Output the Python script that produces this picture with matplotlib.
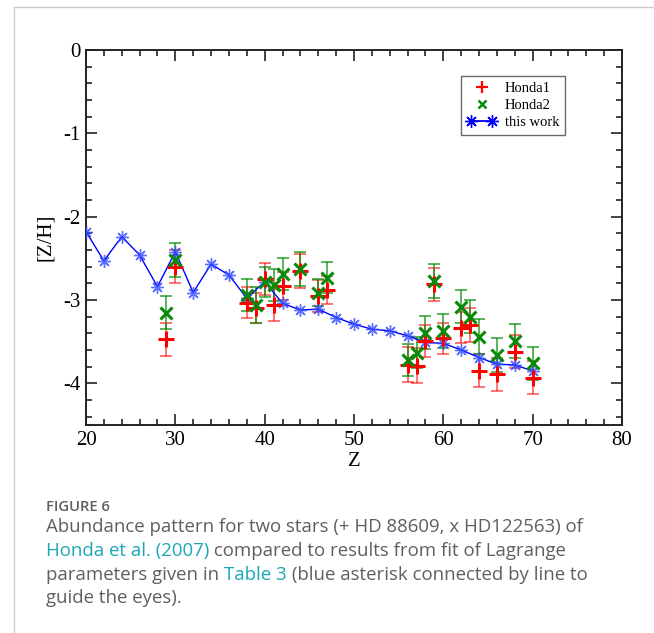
import matplotlib
matplotlib.use("Agg")
import matplotlib.pyplot as plt
from matplotlib.lines import Line2D
from matplotlib.legend_handler import HandlerLine2D
from matplotlib.ticker import MultipleLocator, FixedLocator, FixedFormatter

# ---- data ----
z_work = [20, 22, 24, 26, 28, 30, 32, 34, 36, 38, 40, 42, 44, 46, 48, 50, 52,
          54, 56, 58, 60, 62, 64, 66, 68, 70]
zh_work = [-2.18, -2.53, -2.24, -2.46, -2.84, -2.42, -2.91, -2.57, -2.70, -2.98,
           -2.78, -3.04, -3.12, -3.11, -3.21, -3.29, -3.35, -3.37, -3.43, -3.51,
           -3.52, -3.60, -3.69, -3.77, -3.78, -3.85]

z_honda = [29, 30, 38, 39, 40, 41, 42, 44, 46, 47, 56, 57, 58, 59, 60, 62, 63,
           64, 66, 68, 70]
zh_honda1 = [-3.47, -2.60, -3.03, -3.09, -2.75, -3.06, -2.83, -2.65, -2.95, -2.88,
             -3.78, -3.79, -3.49, -2.81, -3.46, -3.33, -3.30, -3.85, -3.89, -3.62,
             -3.93]
err_honda1 = [0.20, 0.20, 0.19, 0.18, 0.19, 0.19, 0.17, 0.20, 0.19, 0.17,
              0.21, 0.21, 0.19, 0.20, 0.19, 0.19, 0.20, 0.20, 0.20, 0.20, 0.20]
zh_honda2 = [-3.15, -2.52, -2.94, -3.06, -2.78, -2.82, -2.69, -2.63, -2.91, -2.73,
             -3.72, -3.63, -3.39, -2.77, -3.37, -3.08, -3.20, -3.44, -3.66, -3.49,
             -3.76]
err_honda2 = [0.20, 0.20, 0.19, 0.22, 0.18, 0.19, 0.19, 0.20, 0.16, 0.19,
              0.19, 0.19, 0.20, 0.20, 0.20, 0.20, 0.20, 0.21, 0.20, 0.20, 0.20]

x_ticks = [20, 30, 40, 50, 60, 70, 80]
x_ticklabels = ["20", "30", "40", "50", "60", "70", "80"]
y_ticks = [0, -1, -2, -3, -4]
y_ticklabels = ["0", "-1", "-2", "-3", "-4"]

SERIF = ["Liberation Serif", "DejaVu Serif"]

fig = plt.figure(figsize=(6.54, 6.33), dpi=100)
fig.patch.set_facecolor("white")

# card border (top and left)
fig.add_artist(Line2D([14 / 654, 1.0], [1 - 7 / 633, 1 - 7 / 633],
                      transform=fig.transFigure, color="#cccccc", lw=1.0))
fig.add_artist(Line2D([14 / 654, 14 / 654], [0, 1 - 7 / 633],
                      transform=fig.transFigure, color="#cccccc", lw=1.0))

ax = fig.add_axes([86 / 654, 1 - 425 / 633, (622 - 86) / 654, (425 - 50) / 633])

red = "#ff0000"
green = "#0a8a0a"
blue = "#0000ff"

ax.errorbar(z_honda, zh_honda1, yerr=err_honda1, fmt="none",
            ecolor=(1, 0, 0, 0.55), elinewidth=1.4, capsize=4.5, capthick=1.4,
            zorder=2)
ax.errorbar(z_honda, zh_honda2, yerr=err_honda2, fmt="none",
            ecolor=(0.0, 0.55, 0.0, 0.65), elinewidth=1.4, capsize=4.5,
            capthick=1.4, zorder=2)
ax.plot(z_work, zh_work, color=blue, lw=1.0, marker=(8, 2, 0), ms=9,
        mec=(0.2, 0.3, 1.0, 0.8), mew=1.0, zorder=3)
ax.plot(z_honda, zh_honda1, ls="none", marker="+", ms=11, mew=2.2, color=red,
        zorder=4)
ax.plot(z_honda, zh_honda2, ls="none", marker="x", ms=8, mew=2.2, color=green,
        zorder=5)

ax.set_xlim(20, 80)
ax.set_ylim(-4.5, 0)
ax.xaxis.set_major_locator(FixedLocator(x_ticks))
ax.xaxis.set_major_formatter(FixedFormatter(x_ticklabels))
ax.xaxis.set_minor_locator(MultipleLocator(2))
ax.yaxis.set_major_locator(FixedLocator(y_ticks))
ax.yaxis.set_major_formatter(FixedFormatter(y_ticklabels))
ax.yaxis.set_minor_locator(MultipleLocator(0.2))
ax.tick_params(which="both", direction="in", top=True, right=True,
               color="#222222", width=1.2)
ax.tick_params(which="major", length=8, labelsize=15, pad=4)
ax.tick_params(which="minor", length=4.5)
for lab in ax.get_xticklabels() + ax.get_yticklabels():
    lab.set_fontfamily(SERIF)
for s in ax.spines.values():
    s.set_linewidth(1.4)
    s.set_color("#222222")

ax.set_xlabel("Z", fontsize=15, family=SERIF, labelpad=2)
ax.set_ylabel("[Z/H]", fontsize=15, family=SERIF, labelpad=6)

h1 = Line2D([], [], ls="none", marker="+", ms=9, mew=1.6, color=red)
h2 = Line2D([], [], ls="none", marker="x", ms=6, mew=1.8, color=green)
h3 = Line2D([], [], color=blue, lw=1.3, marker=(8, 2, 0), ms=9, mew=1.0)
leg = ax.legend([h1, h2, h3], ["Honda1", "Honda2", "this work"],
                loc="upper left", bbox_to_anchor=(0.70, 0.93),
                prop={"family": SERIF, "size": 10.5}, frameon=True,
                fancybox=False, edgecolor="#444444", borderpad=0.4,
                labelspacing=0.25, handlelength=2.0, handletextpad=0.6,
                borderaxespad=0,
                handler_map={h1: HandlerLine2D(numpoints=1),
                             h2: HandlerLine2D(numpoints=1),
                             h3: HandlerLine2D(numpoints=2)})
leg.get_frame().set_linewidth(1.0)

# ---- caption ----
CAP = ["Open Sans", "DejaVu Sans"]
grey = "#5f5f5f"
teal = "#1aa6b7"

lines = [
    [("Abundance pattern for two stars (+ HD 88609, x HD122563) of", grey)],
    [("Honda et al. (2007)", teal), (" compared to results from fit of Lagrange", grey)],
    [("parameters given in ", grey), ("Table 3", teal),
     (" (blue asterisk connected by line to", grey)],
    [("guide the eyes).", grey)],
]
baselines = [532, 556, 580, 603]
x0 = 46 / 654
fig.canvas.draw()
renderer = fig.canvas.get_renderer()


def fitted_size(text, width_px, **kw):
    probe = fig.text(0, 0, text, fontsize=12, **kw)
    w = probe.get_window_extent(renderer=renderer).width
    probe.remove()
    return 12 * width_px / w


fig_size = fitted_size("FIGURE 6", 64, family=CAP, fontweight="semibold")
fig.text(x0, 1 - 511 / 633, "FIGURE 6", fontsize=fig_size, color=grey,
         family=CAP, fontweight="semibold", va="baseline")

cap_size = fitted_size(lines[0][0][0], 535, family=CAP)
for segs, yb in zip(lines, baselines):
    x = x0
    for txt, col in segs:
        t = fig.text(x, 1 - yb / 633, txt, fontsize=cap_size, color=col,
                     family=CAP, va="baseline")
        bb = t.get_window_extent(renderer=renderer)
        x += bb.width / fig.bbox.width

fig.savefig("out.png", dpi=100)
